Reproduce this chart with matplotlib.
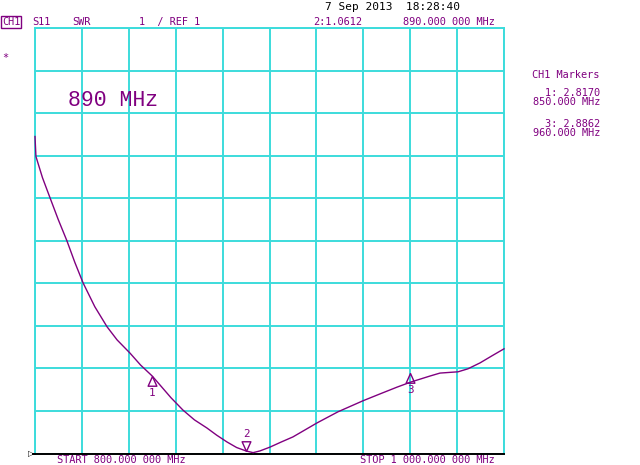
import matplotlib
matplotlib.use("Agg")
import matplotlib.pyplot as plt
from matplotlib.path import Path

# === Trace data ===
freq_mhz = [800.0, 800.4, 803.2, 806.4, 809.9, 813.6, 817.0, 820.5, 825.5, 830.7,
            835.0, 840.5, 845.0, 850.0, 853.3, 858.0, 863.1, 868.0, 873.3, 877.5,
            881.9, 886.0, 890.0, 893.0, 895.9, 900.2, 905.0, 910.0, 915.0, 920.3,
            929.2, 939.9, 947.1, 954.4, 960.3, 968.4, 972.7, 980.4, 984.6, 989.8,
            995.0, 1000.0]
swr = [8.45, 7.98, 7.48, 7.01, 6.50, 6.00, 5.49, 5.01, 4.45, 3.98,
       3.67, 3.36, 3.08, 2.82, 2.61, 2.31, 2.02, 1.79, 1.60, 1.43,
       1.27, 1.14, 1.06, 1.02, 1.06, 1.15, 1.27, 1.39, 1.55, 1.72,
       1.98, 2.24, 2.40, 2.56, 2.68, 2.82, 2.89, 2.92, 2.99, 3.13,
       3.30, 3.46]

# === Markers ===
marker_ids = ["1", "2", "3"]
marker_freq = [850.0, 890.0, 960.0]
marker_swr = [2.8170, 1.0612, 2.8862]
marker_up = [True, False, True]

PURPLE = "#800080"
CYAN = "#3cdcdc"
MONO = "DejaVu Sans Mono"

W, H = 640, 465
fig = plt.figure(figsize=(W / 100, H / 100), dpi=100)
fig.patch.set_facecolor("white")


def fx(px):
    return px / W


def fy(py):
    return 1 - py / H


left, right, top, bottom = 35, 504, 28, 453.5
ax = fig.add_axes([fx(left), fy(bottom), (right - left) / W, (bottom - top) / H])
ax.set_xlim(800, 1000)
ax.set_ylim(1, 11)
ax.set_xticks([800 + 20 * i for i in range(11)])
ax.set_yticks(range(1, 12))
ax.tick_params(length=0, labelbottom=False, labelleft=False)
ax.grid(True, color=CYAN, lw=1.4)
ax.set_axisbelow(True)
for s in ["left", "right", "top"]:
    ax.spines[s].set_color(CYAN)
    ax.spines[s].set_linewidth(1.4)
ax.spines["bottom"].set_color("black")
ax.spines["bottom"].set_linewidth(1.4)

# trace
ax.plot(freq_mhz, swr, color=PURPLE, lw=1.0, clip_on=False, zorder=3)

# marker triangles with the tip on the trace point
up_tri = Path([(0, 0), (-0.45, -1), (0.45, -1), (0, 0)])
down_tri = Path([(0, 0), (-0.45, 1), (0.45, 1), (0, 0)])
for mid, f, v, up in zip(marker_ids, marker_freq, marker_swr, marker_up):
    ax.plot([f], [v], marker=up_tri if up else down_tri, ms=14, mfc="none",
            mec=PURPLE, mew=1.0, zorder=4, clip_on=False)
    ax.annotate(mid, (f, v), xytext=(0, -12 if up else 12), textcoords="offset points",
                ha="center", va="center", color=PURPLE, fontsize=7.8, family=MONO)

# reference position marker and extended baseline
fig.add_artist(plt.Line2D([fx(33), fx(35)], [fy(454), fy(454)], color="black", lw=1.4))
fig.text(fx(31.5), fy(454), "\u25b7", color="black", fontsize=6, ha="center", va="center")

# === Screen annotations ===
fs = 7.4
fig.text(fx(2), fy(22), "CH1", color=PURPLE, fontsize=fs, family=MONO, va="center",
         bbox=dict(boxstyle="square,pad=0.1", fc="none", ec=PURPLE, lw=1.0))
fig.text(fx(32), fy(22), "S11", color=PURPLE, fontsize=fs, family=MONO, va="center")
fig.text(fx(72), fy(22), "SWR", color=PURPLE, fontsize=fs, family=MONO, va="center")
fig.text(fx(139), fy(22), "1  / REF 1", color=PURPLE, fontsize=fs, family=MONO, va="center")
fig.text(fx(313), fy(22), "2:1.0612", color=PURPLE, fontsize=fs, family=MONO, va="center")
fig.text(fx(403), fy(22), "890.000 000 MHz", color=PURPLE, fontsize=fs, family=MONO, va="center")
fig.text(fx(325), fy(7), "7 Sep 2013  18:28:40", color="black", fontsize=8, family=MONO, va="center")
fig.text(fx(2), fy(58), "*", color=PURPLE, fontsize=fs, family=MONO, va="center")

fig.text(fx(57), fy(459.5), "START 800.000 000 MHz", color=PURPLE, fontsize=fs, family=MONO, va="center")
fig.text(fx(360), fy(459.5), "STOP 1 000.000 000 MHz", color=PURPLE, fontsize=fs, family=MONO, va="center")

fig.text(fx(566), fy(75), "CH1 Markers", color=PURPLE, fontsize=fs, family=MONO, ha="center", va="center")
fig.text(fx(600), fy(93), "1: 2.8170", color=PURPLE, fontsize=fs, family=MONO, ha="right", va="center")
fig.text(fx(600), fy(102), "850.000 MHz", color=PURPLE, fontsize=fs, family=MONO, ha="right", va="center")
fig.text(fx(600), fy(124), "3: 2.8862", color=PURPLE, fontsize=fs, family=MONO, ha="right", va="center")
fig.text(fx(600), fy(133), "960.000 MHz", color=PURPLE, fontsize=fs, family=MONO, ha="right", va="center")

fig.text(fx(68), fy(101), "890 MHz", color=PURPLE, fontsize=15.5, family="Liberation Mono",
         va="center")

fig.savefig("out.png", dpi=100, facecolor="white")
